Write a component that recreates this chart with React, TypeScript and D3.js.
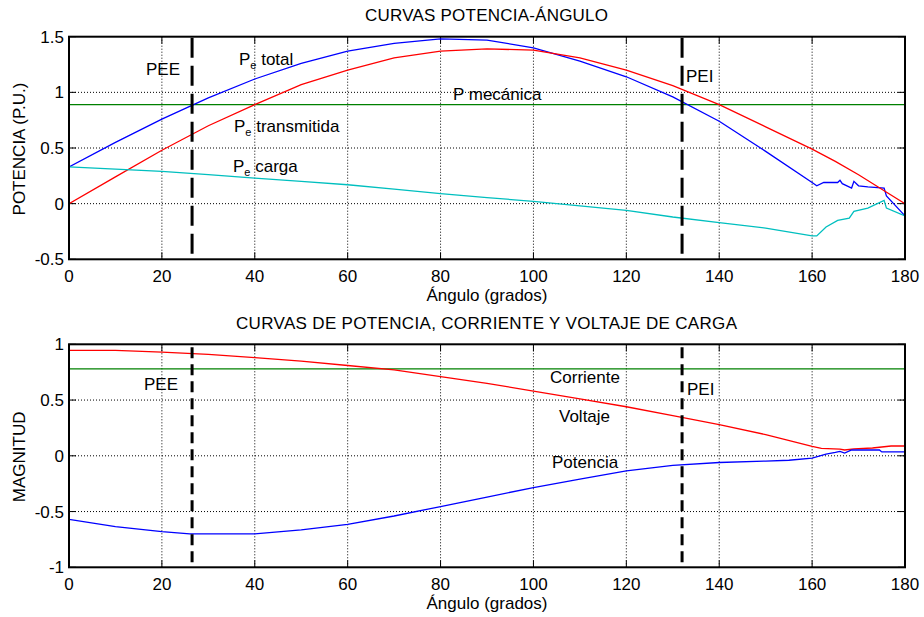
import React from 'react';
import * as d3 from 'd3';

// ---- top plot: potencia-ángulo ----
const topTitle = 'CURVAS POTENCIA-ÁNGULO';
const topYLabel = 'POTENCIA (P.U.)';
const topYTicks = [-0.5, 0, 0.5, 1, 1.5];

const transAng = [0, 10, 20, 30, 40, 50, 60, 70, 80, 90, 100, 110, 120, 130, 140, 150, 160, 165, 170, 175, 180];
const transVal = [0, 0.24, 0.48, 0.7, 0.89, 1.07, 1.2, 1.31, 1.37, 1.39, 1.38, 1.31, 1.2, 1.06, 0.89, 0.69, 0.49, 0.38, 0.26, 0.13, 0];

const totalAng = [0, 10, 20, 30, 40, 50, 60, 70, 80, 90, 100, 110, 120, 130, 140, 150, 160, 161, 162.5, 165.5, 166, 166.5, 168.5, 169, 170, 172, 175.5, 176, 180];
const totalVal = [0.33, 0.55, 0.76, 0.95, 1.12, 1.26, 1.37, 1.44, 1.48, 1.47, 1.4, 1.28, 1.14, 0.96, 0.74, 0.47, 0.19, 0.16, 0.19, 0.19, 0.21, 0.18, 0.14, 0.2, 0.16, 0.15, 0.14, 0.07, -0.11];

const cargaAng = [0, 10, 20, 30, 40, 50, 60, 70, 80, 90, 100, 110, 120, 130, 140, 150, 160, 161, 163, 165.5, 168, 169, 172, 175.5, 176, 180];
const cargaVal = [0.33, 0.31, 0.29, 0.26, 0.23, 0.2, 0.17, 0.13, 0.09, 0.055, 0.02, -0.02, -0.06, -0.12, -0.17, -0.22, -0.29, -0.29, -0.21, -0.15, -0.13, -0.07, -0.04, 0.03, -0.04, -0.11];

const pMecanica = 0.89;

// ---- bottom plot: potencia, corriente y voltaje de carga ----
const botTitle = 'CURVAS DE POTENCIA, CORRIENTE Y VOLTAJE DE CARGA';
const botYLabel = 'MAGNITUD';
const botYTicks = [-1, -0.5, 0, 0.5, 1];

const voltAng = [0, 10, 20, 30, 40, 50, 60, 70, 80, 90, 100, 110, 120, 130, 140, 150, 160, 162, 166, 167, 169, 173, 177, 180];
const voltVal = [0.945, 0.945, 0.93, 0.91, 0.88, 0.85, 0.81, 0.77, 0.71, 0.65, 0.58, 0.51, 0.44, 0.36, 0.28, 0.19, 0.085, 0.067, 0.06, 0.052, 0.062, 0.07, 0.088, 0.088];

const potAng = [0, 10, 20, 26, 30, 40, 50, 60, 70, 80, 90, 100, 110, 120, 130, 140, 150, 155, 160, 163, 165, 166, 167, 168.5, 174.5, 175, 180];
const potVal = [-0.57, -0.635, -0.68, -0.7, -0.7, -0.7, -0.665, -0.615, -0.54, -0.455, -0.37, -0.285, -0.21, -0.135, -0.085, -0.06, -0.047, -0.04, -0.02, 0.016, 0.03, 0.04, 0.025, 0.052, 0.052, 0.035, 0.035];

const corriente = 0.78;

const xTicks = [0, 20, 40, 60, 80, 100, 120, 140, 160, 180];
const xLabel = 'Ángulo (grados)';
const peeAngle = 26.5;
const peiAngle = 132;

const BLUE = '#0000ff';
const RED = '#ff0000';
const GREEN = '#008000';
const CYAN = '#00bfbf';
const FONT = 'Liberation Sans, Arial, sans-serif';

type Series = { ang: number[]; val: number[]; color: string };
type Note = { x: number; y: number; main: string; sub?: string; rest?: string };

const x = d3.scaleLinear().domain([0, 180]).range([69, 905]);

const Panel: React.FC<{
  id: string;
  top: number;
  bottom: number;
  yDomain: [number, number];
  yTicks: number[];
  title: string;
  titleWidth: number;
  yLabel: string;
  series: Series[];
  hLines: { v: number; color: string }[];
  dash: string;
  dashInset: [number, number];
  notes: Note[];
}> = (p) => {
  const y = d3.scaleLinear().domain(p.yDomain).range([p.bottom, p.top]);
  const line = d3.line<[number, number]>().x(d => x(d[0])).y(d => y(d[1]));
  const [x0, x1] = x.range();
  const tk = 7;
  return (
    <g fontFamily={FONT} fontSize={17}>
      <defs>
        <clipPath id={p.id}>
          <rect x={x0} y={p.top} width={x1 - x0} height={p.bottom - p.top} />
        </clipPath>
      </defs>
      <text x={(236 + 737) / 2} y={p.top - 15.5} textAnchor="middle" textLength={p.titleWidth} lengthAdjust="spacing">{p.title}</text>

      {/* grid */}
      {xTicks.slice(1, -1).map(t => (
        <line key={'gx' + t} x1={x(t)} x2={x(t)} y1={p.top} y2={p.bottom} stroke="#000" strokeWidth={1} strokeDasharray="1,2" />
      ))}
      {p.yTicks.slice(1, -1).map(t => (
        <line key={'gy' + t} x1={x0} x2={x1} y1={y(t)} y2={y(t)} stroke="#000" strokeWidth={1} strokeDasharray="1,2" />
      ))}

      {/* ticks */}
      {xTicks.map(t => (
        <g key={'tx' + t}>
          <line x1={x(t)} x2={x(t)} y1={p.bottom} y2={p.bottom - tk} stroke="#000" />
          <line x1={x(t)} x2={x(t)} y1={p.top} y2={p.top + tk} stroke="#000" />
          <text x={x(t)} y={p.bottom + 22.5} textAnchor="middle">{t}</text>
        </g>
      ))}
      {p.yTicks.map(t => (
        <g key={'ty' + t}>
          <line x1={x0} x2={x0 + tk} y1={y(t)} y2={y(t)} stroke="#000" />
          <line x1={x1} x2={x1 - tk} y1={y(t)} y2={y(t)} stroke="#000" />
          <text x={x0 - 5} y={y(t)} dy="0.36em" textAnchor="end">{t}</text>
        </g>
      ))}

      <g clipPath={`url(#${p.id})`}>
        {p.hLines.map(h => (
          <line key={'h' + h.v} x1={x0} x2={x1} y1={y(h.v)} y2={y(h.v)} stroke={h.color} strokeWidth={1.3} />
        ))}
        {p.series.map((s, i) => (
          <path key={i} d={line(s.ang.map((a, j) => [a, s.val[j]] as [number, number])) || ''} fill="none" stroke={s.color} strokeWidth={1.3} />
        ))}
      </g>

      {[peeAngle, peiAngle].map(a => (
        <line key={'d' + a} x1={x(a)} x2={x(a)} y1={p.top + p.dashInset[0]} y2={p.bottom - p.dashInset[1]} stroke="#000" strokeWidth={3} strokeDasharray={p.dash} />
      ))}

      <rect x={x0} y={p.top} width={x1 - x0} height={p.bottom - p.top} fill="none" stroke="#000" strokeWidth={2} />

      {p.notes.map((n, i) => (
        <text key={'n' + i} x={n.x} y={n.y}>
          {n.main}
          {n.sub && <tspan fontSize={11} dy={4}>{n.sub}</tspan>}
          {n.rest && <tspan dy={n.sub ? -4 : 0}>{n.rest}</tspan>}
        </text>
      ))}

      <text x={p.bottom + 42 > 0 ? (x0 + x1) / 2 : 0} y={p.bottom + 42} textAnchor="middle">{xLabel}</text>
      <text transform={`translate(25, ${(p.top + p.bottom) / 2 + 1}) rotate(-90)`} textAnchor="middle">{p.yLabel}</text>
    </g>
  );
};

export default function App() {
  return (
    <svg width={924} height={617} style={{ position: 'absolute', left: 0, top: 0, background: '#fff' }}>
      <rect width={924} height={617} fill="#fff" />
      <Panel
        id="clipTop"
        top={36.7}
        bottom={259.3}
        yDomain={[-0.5, 1.5]}
        yTicks={topYTicks}
        title={topTitle}
        titleWidth={243}
        yLabel={topYLabel}
        series={[
          { ang: totalAng, val: totalVal, color: BLUE },
          { ang: transAng, val: transVal, color: RED },
          { ang: cargaAng, val: cargaVal, color: CYAN },
        ]}
        hLines={[{ v: pMecanica, color: GREEN }]}
        dash="20,8"
        dashInset={[1, 0]}
        notes={[
          { x: 146, y: 75, main: 'PEE' },
          { x: 239, y: 65, main: 'P', sub: 'e', rest: ' total' },
          { x: 453, y: 100, main: 'P mecánica' },
          { x: 234, y: 132, main: 'P', sub: 'e', rest: ' transmitida' },
          { x: 233, y: 172, main: 'P', sub: 'e', rest: ' carga' },
          { x: 686, y: 82, main: 'PEI' },
        ]}
      />
      <Panel
        id="clipBot"
        top={344.3}
        bottom={567.3}
        yDomain={[-1, 1]}
        yTicks={botYTicks}
        title={botTitle}
        titleWidth={501}
        yLabel={botYLabel}
        series={[
          { ang: voltAng, val: voltVal, color: RED },
          { ang: potAng, val: potVal, color: BLUE },
        ]}
        hLines={[{ v: corriente, color: GREEN }]}
        dash="11,6"
        dashInset={[3, 5]}
        notes={[
          { x: 144, y: 390, main: 'PEE' },
          { x: 550, y: 383, main: 'Corriente' },
          { x: 559, y: 422, main: 'Voltaje' },
          { x: 552, y: 468, main: 'Potencia' },
          { x: 687, y: 395, main: 'PEI' },
        ]}
      />
    </svg>
  );
}
